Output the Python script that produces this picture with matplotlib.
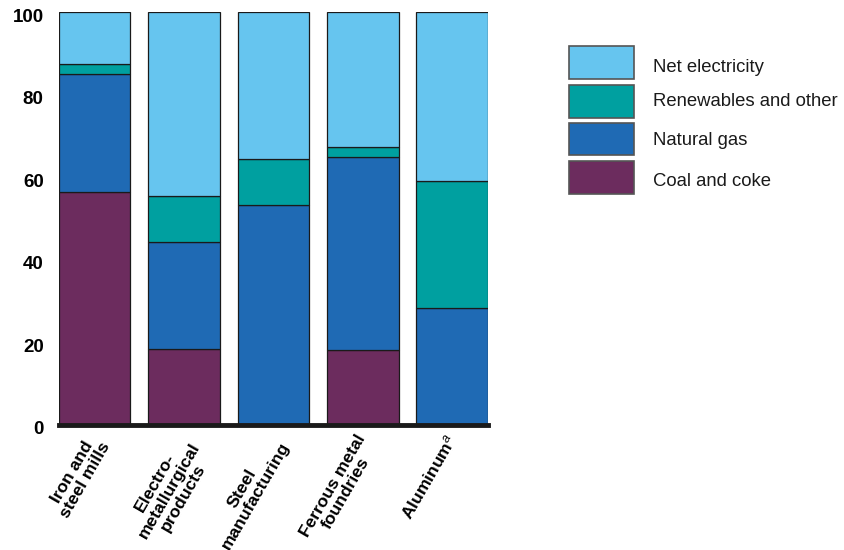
import matplotlib
matplotlib.use('Agg')
import matplotlib.pyplot as plt
import matplotlib.transforms as mtransforms
from matplotlib.patches import Rectangle
import numpy as np

plt.rcParams['font.family'] = ['Liberation Sans', 'DejaVu Sans']
plt.rcParams['mathtext.fontset'] = 'custom'
plt.rcParams['mathtext.rm'] = 'Liberation Sans'
plt.rcParams['mathtext.it'] = 'Liberation Sans:italic'

# shares of energy use (%)
industries = ['Iron and\nsteel mills', 'Electro-\nmetallurgical\nproducts', 'Steel\nmanufacturing',
              'Ferrous metal\nfoundries', 'Aluminum$^{\\mathit{a}}$']
coal = [56.4, 18.4, 0, 18.2, 0]
natural_gas = [28.6, 25.9, 53.2, 46.7, 28.4]
renewables = [2.4, 11.2, 11.2, 2.5, 30.7]
electricity = [100 - c - g - r for c, g, r in zip(coal, natural_gas, renewables)]

series = [('Coal and coke', coal, '#6c2c5e'),
          ('Natural gas', natural_gas, '#1f6ab4'),
          ('Renewables and other', renewables, '#00a0a0'),
          ('Net electricity', electricity, '#66c5ef')]

W, H = 845, 550
fig = plt.figure(figsize=(W / 100, H / 100), dpi=100)
ax = fig.add_axes([59 / W, 1 - 425 / H, (488 - 59) / W, (425 - 12.3) / H])

x = np.arange(len(industries))
bottom = np.zeros(len(industries))
for name, vals, col in series:
    vals = np.array(vals, dtype=float)
    ax.bar(x, vals, bottom=bottom, width=0.8, color=col, edgecolor='#1a1a1a', linewidth=0.9, label=name)
    bottom += vals

ax.set_xlim(-0.4, 4.4)
ax.set_ylim(0, 100)
ax.set_yticks([0, 20, 40, 60, 80, 100])
ax.tick_params(axis='y', length=0, pad=11, labelsize=13.5)
ydown = mtransforms.ScaledTranslation(0, -3 / 100, fig.dpi_scale_trans)
for lab in ax.get_yticklabels():
    lab.set_fontweight('bold')
    lab.set_transform(lab.get_transform() + ydown)

for s in ['top', 'right', 'left']:
    ax.spines[s].set_visible(False)
ax.spines['bottom'].set_linewidth(3.5)
ax.spines['bottom'].set_color('#1a1a1a')

ax.set_xticks(x)
ax.set_xticklabels(industries, fontsize=12.6, fontweight='bold', rotation=60, ha='right', va='top',
                   rotation_mode='anchor', multialignment='center', linespacing=1.05)
ax.tick_params(axis='x', length=0, pad=5)
offset = mtransforms.ScaledTranslation(-8 / 100, 0, fig.dpi_scale_trans)
for lab in ax.get_xticklabels():
    lab.set_transform(lab.get_transform() + offset)

# legend drawn as boxes in figure pixels, top to bottom
box_tops = [46, 85, 122.7, 161]
text_baselines = [72.3, 105.7, 145, 185.7]
for (name, vals, col), top, base in zip(reversed(series), box_tops, text_baselines):
    fig.patches.append(Rectangle((569.5 / W, 1 - (top + 32.5) / H), 64.5 / W, 32.5 / H,
                                 transform=fig.transFigure, facecolor=col,
                                 edgecolor='#555555', linewidth=1.2))
    fig.text(653.5 / W, 1 - base / H, name, fontsize=13.3, va='baseline', ha='left', color='#1a1a1a')

fig.savefig('out.png', dpi=100)
